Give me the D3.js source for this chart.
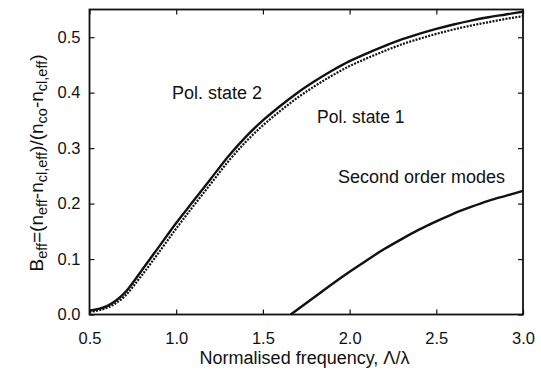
<!DOCTYPE html>
<html>
<head>
<meta charset="utf-8">
<script src="https://cdn.jsdelivr.net/npm/d3@7"></script>
<style>
  body { margin: 0; background: #fff; }
  svg text { font-family: "Liberation Sans", Arial, sans-serif; fill: #111; }
</style>
</head>
<body>
<svg id="chart" width="541" height="374"></svg>
<script>
// normalised frequency samples
let freq = [0.5, 0.6, 0.7, 0.8, 0.9, 1.0, 1.1, 1.2, 1.3, 1.4, 1.5, 1.6, 1.7,
            1.8, 1.9, 2.0, 2.1, 2.2, 2.3, 2.4, 2.5, 2.6, 2.7, 2.8, 2.9, 3.0];
// pol. state 2 (solid)
let polState2 = [0.007, 0.015, 0.038, 0.079, 0.122, 0.165, 0.205, 0.245, 0.285, 0.320, 0.350, 0.376, 0.400,
                 0.421, 0.440, 0.457, 0.471, 0.484, 0.496, 0.506, 0.515, 0.523, 0.530, 0.536, 0.541, 0.546];
// pol. state 1 (dotted)
let polState1 = [0.005, 0.012, 0.032, 0.070, 0.112, 0.155, 0.196, 0.236, 0.276, 0.311, 0.341, 0.367, 0.391,
                 0.412, 0.431, 0.448, 0.462, 0.475, 0.487, 0.497, 0.506, 0.514, 0.521, 0.527, 0.533, 0.538];
// second order modes
let freq2 = [1.66, 1.7, 1.8, 1.9, 2.0, 2.1, 2.2, 2.3, 2.4, 2.5, 2.6, 2.7, 2.8, 2.9, 3.0];
let secondOrder = [0.0, 0.009, 0.032, 0.055, 0.077, 0.098, 0.118, 0.136, 0.153, 0.168, 0.182, 0.194, 0.205, 0.214, 0.223];

let xTicks = [0.5, 1.0, 1.5, 2.0, 2.5, 3.0];
let yTicks = [0.0, 0.1, 0.2, 0.3, 0.4, 0.5];

let svg = d3.select("#chart");
let mLeft = 89.5, mRight = 523, mTop = 9.5, mBottom = 314.5;

let x = d3.scaleLinear().domain([0.5, 3.0]).range([mLeft, mRight]);
let y = d3.scaleLinear().domain([0, 0.55]).range([mBottom, mTop]);

// axes, ticks pointing inward on all four sides
let fmt = d3.format(".1f");
let gx = svg.append("g").attr("transform", "translate(0," + mBottom + ")")
    .call(d3.axisBottom(x).tickValues(xTicks).tickFormat(fmt).tickSizeInner(-5).tickSizeOuter(0).tickPadding(18));
let gy = svg.append("g").attr("transform", "translate(" + mLeft + ",0)")
    .call(d3.axisLeft(y).tickValues(yTicks).tickFormat(fmt).tickSizeInner(-5).tickSizeOuter(0).tickPadding(9));
let gt = svg.append("g").attr("transform", "translate(0," + mTop + ")")
    .call(d3.axisTop(x).tickValues(xTicks).tickFormat("").tickSizeInner(-5).tickSizeOuter(0));
let gr = svg.append("g").attr("transform", "translate(" + mRight + ",0)")
    .call(d3.axisRight(y).tickValues(yTicks).tickFormat("").tickSizeInner(-5).tickSizeOuter(0));

[gx, gy, gt, gr].forEach(function(g){
    g.select(".domain").remove();
    g.selectAll(".tick line").attr("stroke", "#111").attr("stroke-width", 1.2);
    g.selectAll(".tick text").attr("font-size", 16.5).attr("fill", "#111")
        .style("font-family", "'Liberation Sans', Arial, sans-serif");
});

svg.append("rect")
    .attr("x", mLeft).attr("y", mTop)
    .attr("width", mRight - mLeft).attr("height", mBottom - mTop)
    .attr("fill", "none").attr("stroke", "#111").attr("stroke-width", 1.8);

// curves
let line = d3.line()
    .x(function(d){ return x(d[0]); })
    .y(function(d){ return y(d[1]); })
    .curve(d3.curveMonotoneX);

let plot = svg.append("g");
plot.append("path")
    .datum(freq.map(function(f, i){ return [f, polState1[i]]; }))
    .attr("fill", "none").attr("stroke", "#111")
    .attr("stroke-width", 2.2).attr("stroke-dasharray", "2,1.3")
    .attr("d", line);
plot.append("path")
    .datum(freq.map(function(f, i){ return [f, polState2[i]]; }))
    .attr("fill", "none").attr("stroke", "#111").attr("stroke-width", 2.4)
    .attr("d", line);
plot.append("path")
    .datum(freq2.map(function(f, i){ return [f, secondOrder[i]]; }))
    .attr("fill", "none").attr("stroke", "#111").attr("stroke-width", 2.4)
    .attr("d", line);

// annotations
svg.append("text").attr("x", 172).attr("y", 98.5).attr("font-size", 18).text("Pol. state 2");
svg.append("text").attr("x", 317).attr("y", 123).attr("font-size", 17.5).text("Pol. state 1");
svg.append("text").attr("x", 338).attr("y", 183).attr("font-size", 18).text("Second order modes");

// axis titles
svg.append("text")
    .attr("x", 304.5).attr("y", 364)
    .attr("text-anchor", "middle").attr("font-size", 18)
    .text("Normalised frequency, \u039B/\u03BB");

let yt = svg.append("text")
    .attr("transform", "translate(43,163) rotate(-90)")
    .attr("text-anchor", "middle").attr("font-size", 19);
let parts = [["B", false], ["eff", true], ["=(n", false], ["eff", true], ["-n", false], ["cl,eff", true],
             [")/(n", false], ["co", true], ["-n", false], ["cl,eff", true], [")", false]];
let shifted = false;
parts.forEach(function(p){
    let dy = 0;
    if (p[1] && !shifted) { dy = 4; shifted = true; }
    else if (!p[1] && shifted) { dy = -4; shifted = false; }
    yt.append("tspan")
        .attr("font-size", p[1] ? 14.5 : 19)
        .attr("dy", dy)
        .text(p[0]);
});
</script>
</body>
</html>
